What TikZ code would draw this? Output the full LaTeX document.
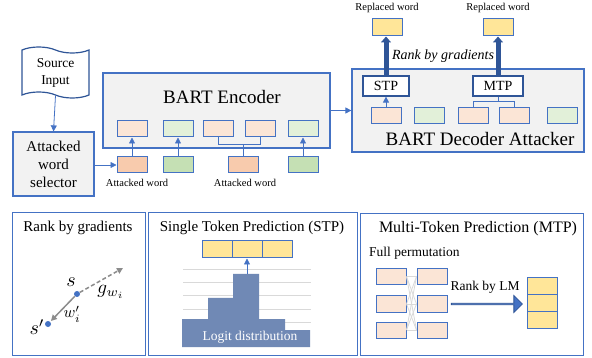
\documentclass[tikz,border=0pt]{standalone}
\usepackage{fontspec}
\setmainfont{Liberation Serif}
\usetikzlibrary{arrows.meta,shapes.symbols,shapes.arrows}

\definecolor{lineblue}{HTML}{4472C4}
\definecolor{darkblue}{HTML}{2F5597}
\definecolor{boxgray}{HTML}{F2F2F2}
\definecolor{peachlt}{HTML}{FBE5D6}
\definecolor{peachdk}{HTML}{F8CBAD}
\definecolor{greenlt}{HTML}{E2F0D9}
\definecolor{greendk}{HTML}{C5E0B4}
\definecolor{wordyellow}{HTML}{FFE699}
\definecolor{logitblue}{HTML}{7089B5}
\definecolor{gridgray}{HTML}{D9D9D9}
\definecolor{arrowgray}{HTML}{8C8C8C}

\begin{document}
\begin{tikzpicture}[x=1pt,y=-1pt,
    tok/.style={draw=lineblue, line width=1pt, minimum width=30pt, minimum height=16pt, inner sep=0pt},
    peach/.style={tok, fill=peachlt},
    peachd/.style={tok, fill=peachdk},
    green/.style={tok, fill=greenlt},
    greend/.style={tok, fill=greendk},
    yel/.style={tok, fill=wordyellow, minimum height=17pt},
    block/.style={draw=lineblue, line width=1.2pt, fill=boxgray, inner sep=0pt},
    panel/.style={draw=lineblue, line width=1pt, fill=white, inner sep=0pt},
    pred/.style={draw=darkblue, line width=1.2pt, fill=white, minimum width=46pt, minimum height=20pt, font=\fontsize{14}{16}\selectfont},
    arr/.style={draw=lineblue, line width=0.8pt, -{Triangle[length=6pt,width=6pt]}},
    link/.style={draw=lineblue, line width=0.8pt},
    thickarr/.style={draw=darkblue, line width=5pt, -{Triangle[length=6pt,width=10pt]}},
    big/.style={font=\fontsize{19}{22}\selectfont},
    small/.style={font=\fontsize{10.5}{12}\selectfont},
    title/.style={font=\fontsize{15}{18}\selectfont},
    dot/.style={circle, fill=lineblue, inner sep=0pt, minimum size=6pt},
    mathlbl/.style={inner sep=1pt}
    ]
    \useasboundingbox (0,0) rectangle (592,358);

    % top: encoder side
    \node[tape, draw=darkblue, line width=1.2pt, fill=white, minimum width=67pt, minimum height=51pt,
          tape bend top=out and in, tape bend bottom=out and in, tape bend height=6pt,
          align=center, font=\fontsize{13.5}{17}\selectfont] (src) at (55.5,72.5) {Source\\Input};
    \node[block, fill=boxgray, minimum width=81pt, minimum height=64pt, align=center,
          font=\fontsize{15}{18}\selectfont] (sel) at (53.5,164) {Attacked\\word\\selector};
    \draw[arr] (src.south) -- (sel.north);

    \node[block, minimum width=227pt, minimum height=75pt] (enc) at (216.5,110.5) {};
    \node[big] (enclbl) at (222,97) {BART Encoder};

    \node[peach] (e1) at (132,129) {};
    \node[green] (e2) at (178,129) {};
    \node[peach] (e3) at (218,129) {};
    \node[peach] (e4) at (260,129) {};
    \node[green] (e5) at (303,129) {};

    \node[peachd] (b1) at (132,165) {};
    \node[greend] (b2) at (178,165) {};
    \node[peachd] (b3) at (243,165) {};
    \node[greend] (b4) at (303,165) {};

    \node[small] (aw1) at (137,183) {Attacked word};
    \node[small] (aw2) at (245,183) {Attacked word};

    \draw[arr] (sel.east |- b1.west) -- (b1.west);
    \draw[arr] (b1.north) -- (e1.south);
    \draw[arr] (b2.north) -- (e2.south);
    \draw[arr] (b4.north) -- (e5.south);
    \draw[link] (e3.south) -- ++(0,7) coordinate (brk) -| (e4.south);
    \draw[link] (b3.north) -- (b3.north |- brk);

    % top: decoder side
    \node[block, minimum width=232pt, minimum height=83pt] (dec) at (468,110.5) {};
    \node[big] (declbl) at (480,139) {BART Decoder Attacker};
    \draw[arr] (enc.east |- dec.west) -- (dec.west);

    \node[peach] (d1) at (386,115.5) {};
    \node[green] (d2) at (429,115.5) {};
    \node[peach] (d3) at (473,115.5) {};
    \node[peach] (d4) at (514,115.5) {};
    \node[green] (d5) at (562,115.5) {};

    \node[pred] (stp) at (386,86) {STP};
    \node[pred, minimum width=50pt] (mtp) at (498,86) {MTP};
    \draw[arr] (d1.north) -- (stp.south);
    \draw[link] (d3.north) -- ++(0,-6) coordinate (dbrk) -| (d4.north);
    \draw[link] (mtp.south) -- (mtp.south |- dbrk);

    \node[yel] (r1) at (387,27.5) {};
    \node[yel] (r2) at (498,27.5) {};
    \node[small] (rw1) at (387,8) {Replaced word};
    \node[small] (rw2) at (498,8) {Replaced word};
    \draw[thickarr] (stp.north) -- (stp.north |- r1.south);
    \draw[thickarr] (mtp.north) -- (r2.south);
    \node[font=\itshape\fontsize{14}{16}\selectfont] (rbg) at (443,56) {Rank by gradients};

    % bottom: rank by gradients
    \node[panel, minimum width=133pt, minimum height=142pt] (p1) at (78.5,284) {};
    \node[title] (p1lbl) at (78,228) {Rank by gradients};
    \node[dot] (s) at (77,294) {};
    \node[dot] (sp) at (48,324) {};
    \coordinate (g) at (123,268);
    \draw[arrowgray, line width=1.5pt, dashed, dash pattern=on 4pt off 2.5pt, -{Triangle[length=6pt,width=6pt]}] (s) -- (g);
    \draw[arrowgray, line width=1.5pt, shorten >=1pt, -{Triangle[length=6pt,width=6pt]}] (s) -- (sp);
    \node[mathlbl] (slbl) at (71,282) {\scalebox{2}{$s$}};
    \node[mathlbl] (glbl) at (111,292) {\scalebox{1.9}{$g_{w_i}$}};
    \node[mathlbl] (wlbl) at (72,314) {\scalebox{1.6}{$w_i'$}};
    \node[mathlbl] (splbl) at (37,327) {\scalebox{2}{$s'$}};

    % bottom: single token prediction
    \node[panel, minimum width=209pt, minimum height=142pt] (p2) at (252.5,284) {};
    \node[title] (p2lbl) at (252,228) {Single Token Prediction (STP)};
    \foreach \y in {269,282,295,309,322}
        \draw[gridgray, line width=0.8pt] (183,\y) -- (311,\y);
    \fill[logitblue] (182,347) -- (182,319) -- (208,319) -- (208,298) -- (233,298) -- (233,274)
        -- (259,274) -- (259,319) -- (285,319) -- (285,330) -- (310,330) -- (310,347) -- cycle;
    \node[font=\fontsize{13.5}{16}\selectfont, text=white] (logit) at (250,337) {Logit distribution};
    \coordinate (bartop) at (247,274);
    \node[yel] (y1) at (217,249.5) {};
    \node[yel] (y2) at (247,249.5) {};
    \node[yel] (y3) at (277,249.5) {};
    \draw[arr] (bartop) -- (y2.south);

    % bottom: multi-token prediction
    \node[panel, minimum width=223pt, minimum height=141pt] (p3) at (471.5,284.5) {};
    \node[font=\fontsize{16}{19}\selectfont] (p3lbl) at (478,229) {Multi-Token Prediction (MTP)};
    \node[font=\fontsize{13.5}{16}\selectfont, anchor=west, inner sep=0pt] (perm) at (369,253) {Full permutation};
    \foreach \i/\y in {1/276.5,2/304,3/330} {
        \node[peach] (l\i) at (391,\y) {};
        \node[peach] (m\i) at (432,\y) {};
    }
    \begin{scope}[gridgray, line width=0.8pt]
    \foreach \i in {1,2,3}
        \foreach \j in {1,2,3}
            \draw (l\i.east) -- (m\j.west);
    \end{scope}
    \node[single arrow, draw=darkblue, fill=lineblue, line width=0.8pt, minimum height=71pt, minimum width=17pt,
          single arrow head extend=4.5pt, single arrow head indent=0pt, inner sep=0pt] (lmarr) at (486.5,304) {};
    \node[font=\fontsize{13.5}{16}\selectfont] (lmlbl) at (485,287) {Rank by LM};
    \foreach \i/\y in {1/285.7,2/303,3/320.3}
        \node[yel, minimum height=17.3pt] (z\i) at (542,\y) {};
    %
\end{tikzpicture}
\end{document}
